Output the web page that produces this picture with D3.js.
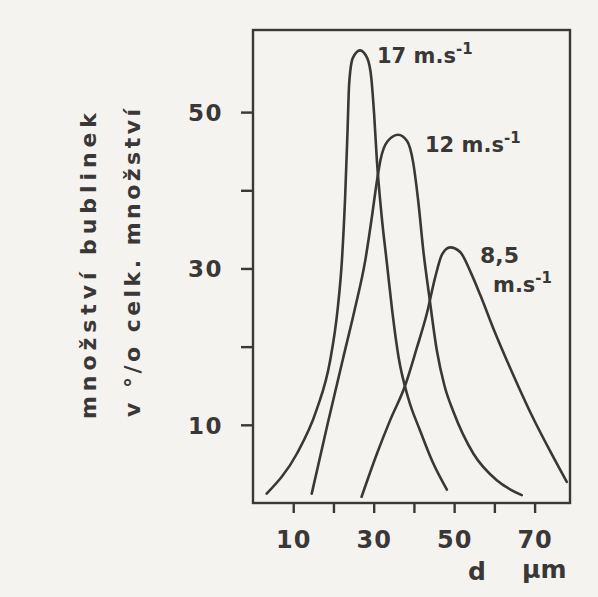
<!DOCTYPE html>
<html>
<head>
<meta charset="utf-8">
<script src="https://cdn.jsdelivr.net/npm/d3@7"></script>
<style>
  body { margin: 0; background: #f5f3ef; }
  svg { display: block; }
  text { font-family: "DejaVu Sans", sans-serif; font-weight: 700; fill: #3a3737; }
</style>
</head>
<body>
<div id="chart"></div>
<script>
// values: bubble diameter d (µm) vs share of bubbles (%)
var curve17 = [[3.4,1.2],[10.9,6.3],[15.8,11.9],[19.2,18.3],[21,24.6],[22.1,31],[22.9,39.1],[23.5,47.6],[23.9,53.6],[24.8,56.9],[26.6,57.9],[28.4,56.9],[29.4,54.4],[30.1,49.8],[30.8,43.8],[32,36.6],[33.3,30.6],[34.6,24.6],[36.2,18.6],[38.6,13.4],[41.5,9.3],[44.6,5.3],[48.2,1.7]];
var curve12 = [[14.6,1.2],[18.5,10],[22.3,18.3],[25.4,25],[27.9,31],[29.5,36.4],[30.7,40.8],[31.7,43.9],[33.5,46.3],[36.1,47.1],[38.3,46.3],[39.8,43.6],[41.1,38.5],[42.4,32],[43.8,26.5],[45.7,19.5],[47.6,15],[49.8,11.7],[54.8,6.3],[60.6,2.9],[66.8,1.0]];
var curve85 = [[27,0.8],[30.8,6.3],[34.1,10.6],[37.8,15],[40.7,19.8],[43.2,24.2],[45.3,28.9],[47,31.8],[49,32.7],[51.5,32.1],[54.2,29.4],[56.5,26.6],[60,22],[64.5,16.6],[69.5,11],[74,6.5],[78,2.7]];

var xTicks = [10, 20, 30, 40, 50, 60, 70];
var xTickLabels = [10, 30, 50, 70];
var yTicks = [10, 20, 30, 40, 50];
var yTickLabels = [10, 30, 50];

var svgWidth = 598, svgHeight = 597;
var margin = { top: 30, right: 28, bottom: 94, left: 253 };
var width = svgWidth - margin.left - margin.right;
var height = svgHeight - margin.top - margin.bottom;
var ink = "#3a3737";

var svg = d3.select("#chart").append("svg")
  .attr("width", svgWidth)
  .attr("height", svgHeight);

var chartGroup = svg.append("g")
  .attr("transform", `translate(${margin.left}, ${margin.top})`);

var xScale = d3.scaleLinear().domain([0, 78.8]).range([0, width]);
var yScale = d3.scaleLinear().domain([0, 60.5]).range([height, 0]);

// frame
chartGroup.append("rect")
  .attr("width", width)
  .attr("height", height)
  .attr("fill", "none")
  .attr("stroke", ink)
  .attr("stroke-width", 2.4);

// x axis ticks (outside, below)
var xAxis = chartGroup.append("g")
  .attr("transform", `translate(0, ${height})`)
  .call(d3.axisBottom(xScale).tickValues(xTicks).tickSize(10).tickSizeOuter(0)
    .tickFormat(d => xTickLabels.includes(d) ? d : ""));
xAxis.select(".domain").remove();
xAxis.selectAll("line").attr("stroke", ink).attr("stroke-width", 2.4);
xAxis.selectAll("text")
  .attr("y", 45)
  .attr("dy", 0)
  .style("font-size", "24px")
  .style("font-family", "'DejaVu Sans', sans-serif")
  .style("font-weight", 700)
  .style("letter-spacing", "1px")
  .attr("fill", ink);

// y axis ticks (outside, left)
var yAxis = chartGroup.append("g")
  .call(d3.axisLeft(yScale).tickValues(yTicks).tickSize(12).tickSizeOuter(0)
    .tickFormat(d => yTickLabels.includes(d) ? d : ""));
yAxis.select(".domain").remove();
yAxis.selectAll("line").attr("stroke", ink).attr("stroke-width", 2.4);
yAxis.selectAll("text")
  .attr("x", -30)
  .attr("dy", "0.36em")
  .style("font-size", "23px")
  .style("font-family", "'DejaVu Sans', sans-serif")
  .style("font-weight", 700)
  .style("letter-spacing", "1.5px")
  .attr("fill", ink);

// curves
var line = d3.line()
  .x(d => xScale(d[0]))
  .y(d => yScale(d[1]))
  .curve(d3.curveMonotoneX);

[curve17, curve12, curve85].forEach(function (c) {
  chartGroup.append("path")
    .datum(c)
    .attr("d", line)
    .attr("fill", "none")
    .attr("stroke", ink)
    .attr("stroke-width", 2.6)
    .attr("stroke-linecap", "round");
});

// curve labels
function speedLabel(x, y, head) {
  var t = svg.append("text")
    .attr("x", x)
    .attr("y", y)
    .style("font-size", "21px");
  t.append("tspan").text(head);
  t.append("tspan").attr("dy", -9).style("font-size", "15px").text("-1");
  return t;
}
speedLabel(377, 63, "17 m.s");
speedLabel(425, 152, "12 m.s");
svg.append("text").attr("x", 480).attr("y", 263).style("font-size", "22px").text("8,5");
speedLabel(493, 292, "m.s");

// axis titles
svg.append("text")
  .attr("transform", "translate(96, 266) rotate(-90)")
  .attr("text-anchor", "middle")
  .attr("textLength", 306)
  .attr("lengthAdjust", "spacing")
  .style("font-size", "22px")
  .text("množství bublinek");

svg.append("text")
  .attr("transform", "translate(140, 263) rotate(-90)")
  .attr("text-anchor", "middle")
  .attr("textLength", 308)
  .attr("lengthAdjust", "spacing")
  .style("font-size", "22px")
  .text("v °/o celk. množství");

svg.append("text").attr("x", 468).attr("y", 580).style("font-size", "25px").text("d");
svg.append("text").attr("x", 522).attr("y", 578).style("font-size", "25px").text("µm");
</script>
</body>
</html>
